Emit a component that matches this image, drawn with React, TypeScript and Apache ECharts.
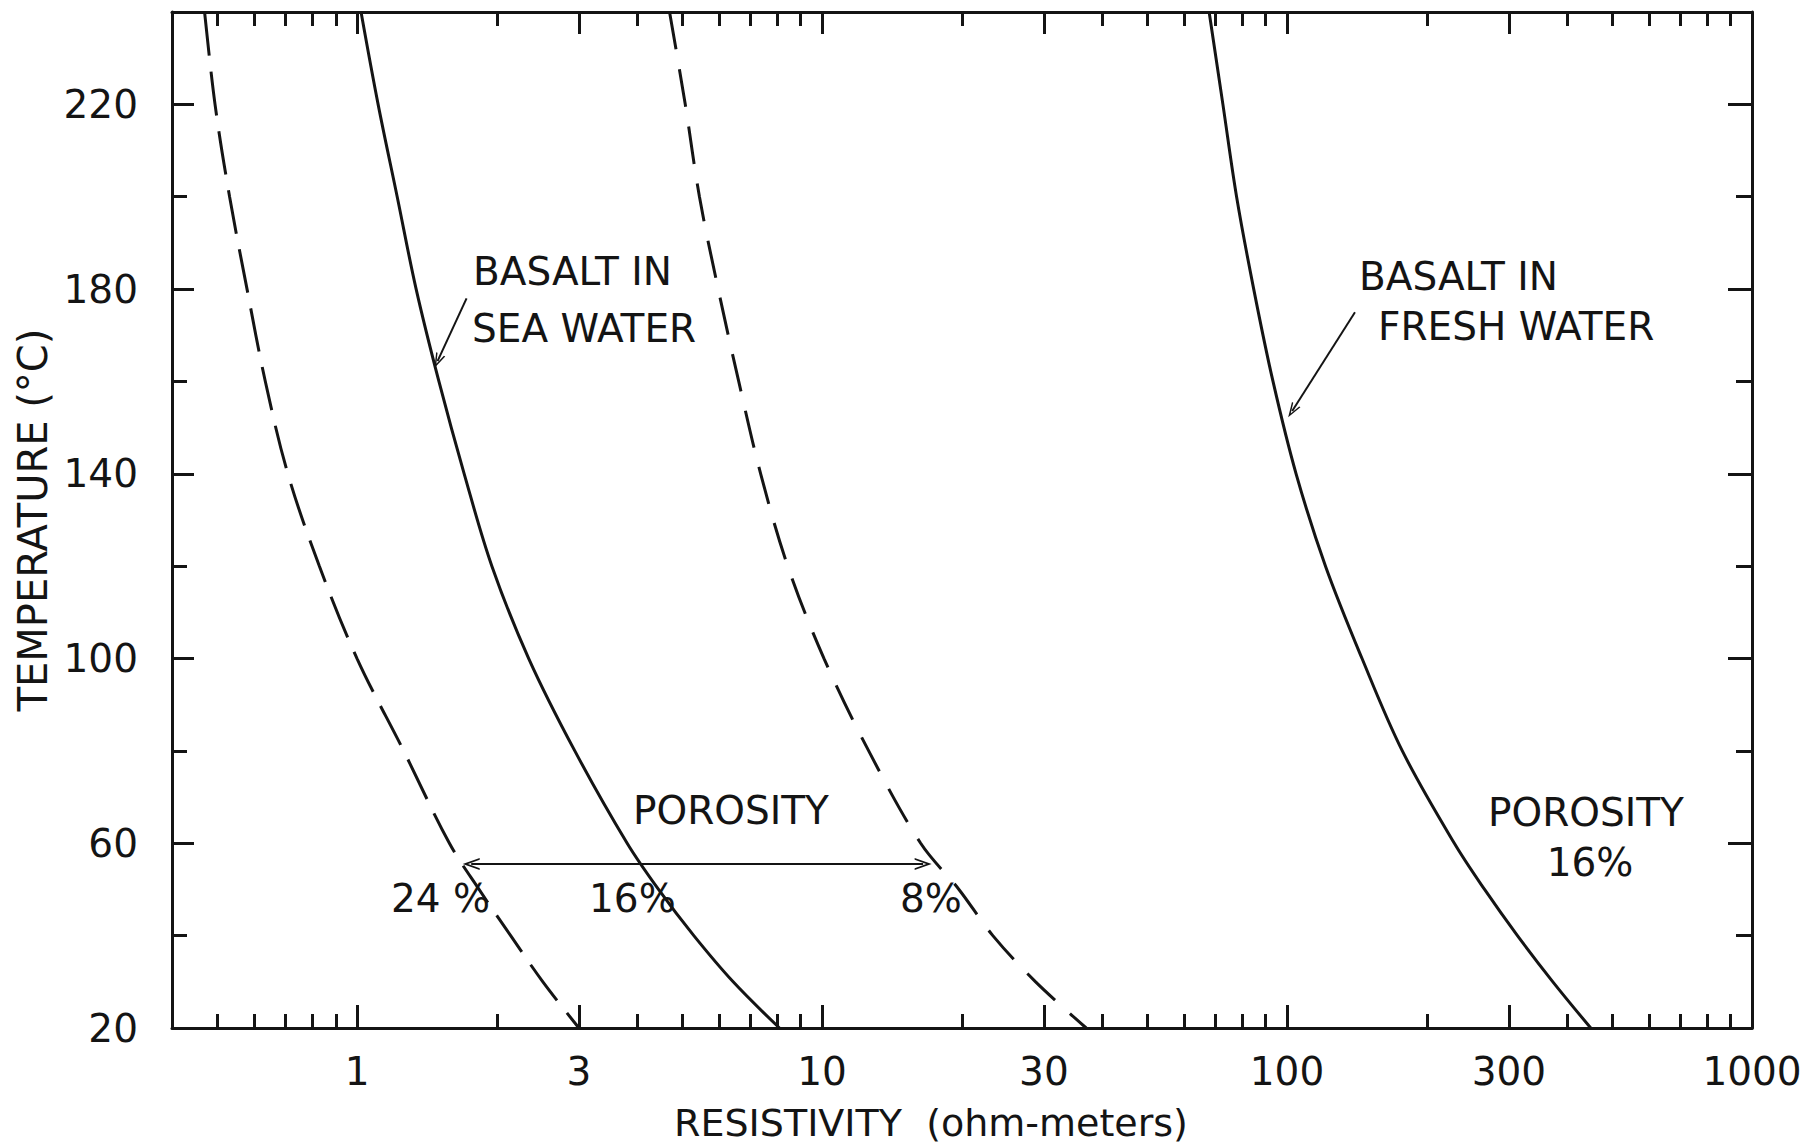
import React, { useEffect, useRef } from 'react';
import * as echarts from 'echarts';

// Temperature levels (°C) at which the curves were read
const temperatures = [240, 220, 200, 180, 160, 140, 120, 100, 80, 60, 50, 40, 30, 20];
// Resistivity (ohm-meters)
const seaWater24 = [0.47, 0.495, 0.532, 0.58, 0.635, 0.71, 0.83, 1.0, 1.26, 1.58, 1.83, 2.14, 2.51, 3.0];
const seaWater16 = [1.02, 1.11, 1.22, 1.34, 1.5, 1.7, 1.95, 2.34, 2.94, 3.81, 4.45, 5.3, 6.44, 8.1];
const seaWater8 = [4.7, 5.08, 5.45, 5.98, 6.62, 7.38, 8.44, 10.1, 12.6, 16.3, 19.7, 23.3, 28.8, 37.0];
const freshWater16 = [68, 72.8, 77.9, 84.8, 93.3, 104.6, 121, 145, 177, 229, 266, 313, 373, 450];

// Axis ticks and labels
const xLabelValues = [1, 3, 10, 30, 100, 300, 1000];
const xMajorTicks = [1, 3, 10, 30, 100, 300];
const xMinorTicks = [0.5, 0.6, 0.7, 0.8, 0.9, 2, 4, 5, 6, 7, 8, 9, 20, 40, 50, 60, 70, 80, 90, 200, 400, 500, 600, 700, 800, 900];
const yLabelValues = [20, 60, 100, 140, 180, 220];

// Annotation arrows (resistivity, temperature)
const porosityArrow = [[1.76, 55.5], [16.5, 55.5]];
const seaArrow = [[1.72, 178], [1.49, 164.4]];
const freshArrow = [[140, 175], [102.6, 153.6]];

const FONT = '"DejaVu Sans", sans-serif';
const INK = '#141414';
const V_HEAD = 'path://M6 0 L12 16 L10.2 16 L6 5 L1.8 16 L0 16 Z';

function pairs(xs: number[]) {
  return xs.map((x, i) => [x, temperatures[i]]);
}

function xAxisBase(position: 'top' | 'bottom') {
  return {
    type: 'log' as const,
    logBase: 10,
    min: 0.4,
    max: 1000,
    position,
    offset: 0,
    splitLine: { show: false },
    minorSplitLine: { show: false },
  };
}

function yAxisBase(position: 'left' | 'right', interval: number) {
  return {
    type: 'value' as const,
    min: 20,
    max: 240,
    interval,
    position,
    offset: 0,
    splitLine: { show: false },
  };
}

export default function App() {
  const ref = useRef<HTMLDivElement>(null);

  useEffect(() => {
    if (!ref.current) return;
    const chart = echarts.init(ref.current, null, { renderer: 'svg' });

    const textStyle = { fill: INK, fontSize: 39, fontFamily: FONT, verticalAlign: 'middle' as const };

    const option: any = {
      animation: false,
      backgroundColor: '#ffffff',
      grid: { left: 172, right: 50, top: 12, bottom: 119, containLabel: false, outerBoundsMode: 'none' },
      xAxis: [
        {
          ...xAxisBase('bottom'),
          axisLine: { show: true, lineStyle: { color: INK, width: 3 } },
          axisTick: { show: true, inside: true, length: 14, lineStyle: { color: INK, width: 3 }, customValues: xMinorTicks },
          axisLabel: {
            show: true,
            customValues: xLabelValues,
            formatter: (v: number) => String(Math.round(v)),
            color: INK,
            fontSize: 39,
            fontFamily: FONT,
            margin: 24,
          },
          name: 'RESISTIVITY  (ohm-meters)',
          nameLocation: 'middle',
          nameGap: 76,
          nameTextStyle: { color: INK, fontSize: 38, fontFamily: FONT, padding: [0, 62, 0, 0] },
        },
        {
          ...xAxisBase('bottom'),
          axisLine: { show: false },
          axisTick: { show: true, inside: true, length: 23, lineStyle: { color: INK, width: 3 }, customValues: xMajorTicks },
          axisLabel: { show: false },
        },
        {
          ...xAxisBase('top'),
          axisLine: { show: true, lineStyle: { color: INK, width: 3 } },
          axisTick: { show: true, inside: true, length: 14, lineStyle: { color: INK, width: 3 }, customValues: xMinorTicks },
          axisLabel: { show: false },
        },
        {
          ...xAxisBase('top'),
          axisLine: { show: false },
          axisTick: { show: true, inside: true, length: 22, lineStyle: { color: INK, width: 3 }, customValues: xMajorTicks },
          axisLabel: { show: false },
        },
      ],
      yAxis: [
        {
          ...yAxisBase('left', 40),
          axisLine: { show: true, lineStyle: { color: INK, width: 3 } },
          axisTick: { show: true, inside: true, length: 22, lineStyle: { color: INK, width: 3 } },
          axisLabel: {
            show: true,
            formatter: (v: number) => (yLabelValues.indexOf(v) >= 0 ? String(v) : ''),
            color: INK,
            fontSize: 39,
            fontFamily: FONT,
            margin: 34,
          },
          name: 'TEMPERATURE (°C)',
          nameLocation: 'middle',
          nameRotate: 90,
          nameGap: 112,
          nameTextStyle: { color: INK, fontSize: 40, fontFamily: FONT },
        },
        {
          ...yAxisBase('left', 20),
          axisLine: { show: false },
          axisTick: { show: true, inside: true, length: 15, lineStyle: { color: INK, width: 3 } },
          axisLabel: { show: false },
        },
        {
          ...yAxisBase('right', 40),
          axisLine: { show: true, lineStyle: { color: INK, width: 3 } },
          axisTick: { show: true, inside: true, length: 24, lineStyle: { color: INK, width: 3 } },
          axisLabel: { show: false },
        },
        {
          ...yAxisBase('right', 20),
          axisLine: { show: false },
          axisTick: { show: true, inside: true, length: 16, lineStyle: { color: INK, width: 3 } },
          axisLabel: { show: false },
        },
      ],
      series: [
        {
          name: 'Sea water, porosity 24%',
          type: 'line',
          data: pairs(seaWater24),
          symbol: 'none',
          smooth: 0.35,
          lineStyle: { color: INK, width: 3, type: [44, 16] },
        },
        {
          name: 'Sea water, porosity 16%',
          type: 'line',
          data: pairs(seaWater16),
          symbol: 'none',
          smooth: 0.35,
          lineStyle: { color: INK, width: 3 },
          markLine: {
            silent: true,
            animation: false,
            label: { show: false },
            lineStyle: { color: INK, width: 2, type: 'solid' },
            data: [
              [
                { coord: porosityArrow[0], symbol: V_HEAD, symbolSize: [12, 17] },
                { coord: porosityArrow[1], symbol: V_HEAD, symbolSize: [12, 17] },
              ],
              [
                { coord: seaArrow[0], symbol: 'none' },
                { coord: seaArrow[1], symbol: V_HEAD, symbolSize: [10, 15] },
              ],
              [
                { coord: freshArrow[0], symbol: 'none' },
                { coord: freshArrow[1], symbol: V_HEAD, symbolSize: [10, 15] },
              ],
            ],
          },
        },
        {
          name: 'Sea water, porosity 8%',
          type: 'line',
          data: pairs(seaWater8),
          symbol: 'none',
          smooth: 0.35,
          lineStyle: { color: INK, width: 3, type: [38, 20] },
        },
        {
          name: 'Fresh water, porosity 16%',
          type: 'line',
          data: pairs(freshWater16),
          symbol: 'none',
          smooth: 0.35,
          lineStyle: { color: INK, width: 3 },
        },
      ],
      graphic: {
        elements: [
          { type: 'text', x: 473, y: 271, style: { ...textStyle, text: 'BASALT IN' } },
          { type: 'text', x: 472, y: 328, style: { ...textStyle, text: 'SEA WATER' } },
          { type: 'text', x: 1359, y: 276, style: { ...textStyle, text: 'BASALT IN' } },
          { type: 'text', x: 1378, y: 326, style: { ...textStyle, text: 'FRESH WATER' } },
          { type: 'text', x: 633, y: 810, style: { ...textStyle, text: 'POROSITY' } },
          { type: 'text', x: 391, y: 898, style: { ...textStyle, text: '24 %' } },
          { type: 'text', x: 589, y: 898, style: { ...textStyle, text: '16%' } },
          { type: 'text', x: 900, y: 898, style: { ...textStyle, text: '8%' } },
          { type: 'text', x: 1488, y: 812, style: { ...textStyle, text: 'POROSITY' } },
          { type: 'text', x: 1590, y: 862, style: { ...textStyle, text: '16%', align: 'center' } },
        ],
      },
    };

    chart.setOption(option);
    return () => chart.dispose();
  }, []);

  return (
    <div
      ref={ref}
      style={{ position: 'absolute', left: 0, top: 0, width: 1802, height: 1147, background: '#fff' }}
    />
  );
}
